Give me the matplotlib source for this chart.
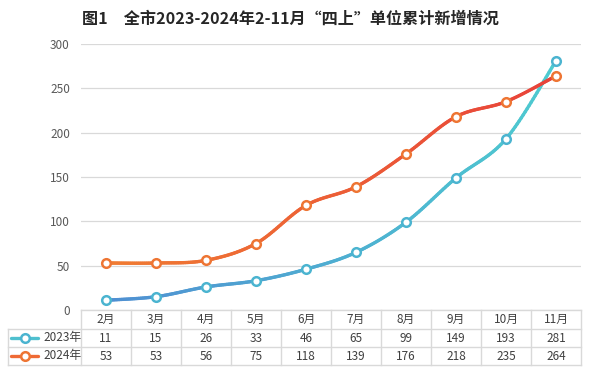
import numpy as np
import matplotlib
matplotlib.use("Agg")
import matplotlib.pyplot as plt
from matplotlib.collections import LineCollection
from matplotlib.colors import LinearSegmentedColormap

plt.rcParams['font.family'] = ['Noto Sans CJK SC', 'DejaVu Sans']

months = ["2月", "3月", "4月", "5月", "6月", "7月", "8月", "9月", "10月", "11月"]
series_names = ["2023年", "2024年"]
v2023 = [11, 15, 26, 33, 46, 65, 99, 149, 193, 281]
v2024 = [53, 53, 56, 75, 118, 139, 176, 218, 235, 264]
yticks = [0, 50, 100, 150, 200, 250, 300]
title = "图1　全市2023-2024年2-11月“四上”单位累计新增情况"

W, H = 591, 380
fig = plt.figure(figsize=(W / 100, H / 100), dpi=100)
fig.patch.set_facecolor("white")

L, R, T, B = 81, 581, 44, 310
ax = fig.add_axes([L / W, 1 - B / H, (R - L) / W, (B - T) / H])
ax.set_xlim(-0.5, len(months) - 0.5)
ax.set_ylim(0, 300)
for s in ax.spines.values():
    s.set_visible(False)
ax.set_yticks(yticks)
ax.set_yticklabels([str(t) for t in yticks], fontsize=8.5, color="#595959")
ax.tick_params(axis="y", length=0, pad=8)
ax.set_xticks([])
for t in yticks:
    ax.axhline(t, color="#d9d9d9", lw=0.9, zorder=0)


def smooth(xs, ys, n=30):
    xs = np.asarray(xs, float); ys = np.asarray(ys, float)
    P = np.column_stack([xs, ys])
    out = []
    for i in range(len(P) - 1):
        p0 = P[i - 1] if i > 0 else P[i]
        p1, p2 = P[i], P[i + 1]
        p3 = P[i + 2] if i + 2 < len(P) else P[i + 1]
        c1 = p1 + (p2 - p0) / 6
        c2 = p2 - (p3 - p1) / 6
        t = np.linspace(0, 1, n)[:, None]
        seg = (1 - t) ** 3 * p1 + 3 * (1 - t) ** 2 * t * c1 + 3 * (1 - t) * t ** 2 * c2 + t ** 3 * p2
        out.append(seg if i == 0 else seg[1:])
    return np.vstack(out)


def grad_line(vals, c_start, c_end, mk_color):
    x = np.arange(len(vals))
    pts = smooth(x, vals)
    segs = np.stack([pts[:-1], pts[1:]], axis=1)
    cmap = LinearSegmentedColormap.from_list("g", [c_start, c_end])
    lc = LineCollection(segs, cmap=cmap, linewidths=2.4, capstyle="round", joinstyle="round", zorder=3)
    lc.set_array((pts[:-1, 0] + pts[1:, 0]) / 2)
    lc.set_clim(0, len(vals) - 1)
    ax.add_collection(lc)
    ax.plot(x, vals, linestyle="none", marker="o", markersize=6.2, markerfacecolor="white",
            markeredgecolor=mk_color, markeredgewidth=1.8, zorder=4, clip_on=False)


c23a, c23b, m23 = "#4f8fd2", "#4ecbd0", "#4bb4d0"
c24a, c24b, m24 = "#f07c32", "#e8423a", "#ee7533"
grad_line(v2023, c23a, c23b, m23)
grad_line(v2024, c24a, c24b, m24)

# overlay axes in pixel coords for title and table
ov = fig.add_axes([0, 0, 1, 1], facecolor="none")
ov.set_xlim(0, W)
ov.set_ylim(H, 0)
ov.axis("off")

ov.text(290, 19, title, ha="center", va="center", fontsize=11.6, fontweight="bold", color="#262626")

gc = "#d9d9d9"
x0 = 8
colw = (R - L) / len(months)
rows = [310, 329, 347, 365]
ov.plot([L, R], [rows[0], rows[0]], color=gc, lw=1)
for yy in rows[1:]:
    ov.plot([x0, R], [yy, yy], color=gc, lw=1)
ov.plot([x0, x0], [rows[1], rows[3]], color=gc, lw=1)
for i in range(len(months) + 1):
    xx = L + i * colw
    ov.plot([xx, xx], [rows[0], rows[3]], color=gc, lw=1)

tc = "#404040"
for i, m in enumerate(months):
    cx = L + (i + 0.5) * colw
    ov.text(cx, (rows[0] + rows[1]) / 2, m, ha="center", va="center", fontsize=8.5, color=tc)
    ov.text(cx, (rows[1] + rows[2]) / 2, str(v2023[i]), ha="center", va="center", fontsize=8.5, color=tc)
    ov.text(cx, (rows[2] + rows[3]) / 2, str(v2024[i]), ha="center", va="center", fontsize=8.5, color=tc)

for r, (name, lc_, mc) in enumerate([(series_names[0], "#4fc0cf", m23), (series_names[1], "#ef6a35", m24)]):
    yy = (rows[r + 1] + rows[r + 2]) / 2
    ov.plot([11, 38], [yy, yy], color=lc_, lw=2.4, solid_capstyle="round")
    ov.plot([24.5], [yy], marker="o", markersize=6.2, markerfacecolor="white",
            markeredgecolor=mc, markeredgewidth=1.8, linestyle="none")
    ov.text(43, yy, name, ha="left", va="center", fontsize=8.5, color=tc)

fig.savefig("out.png", dpi=100)
